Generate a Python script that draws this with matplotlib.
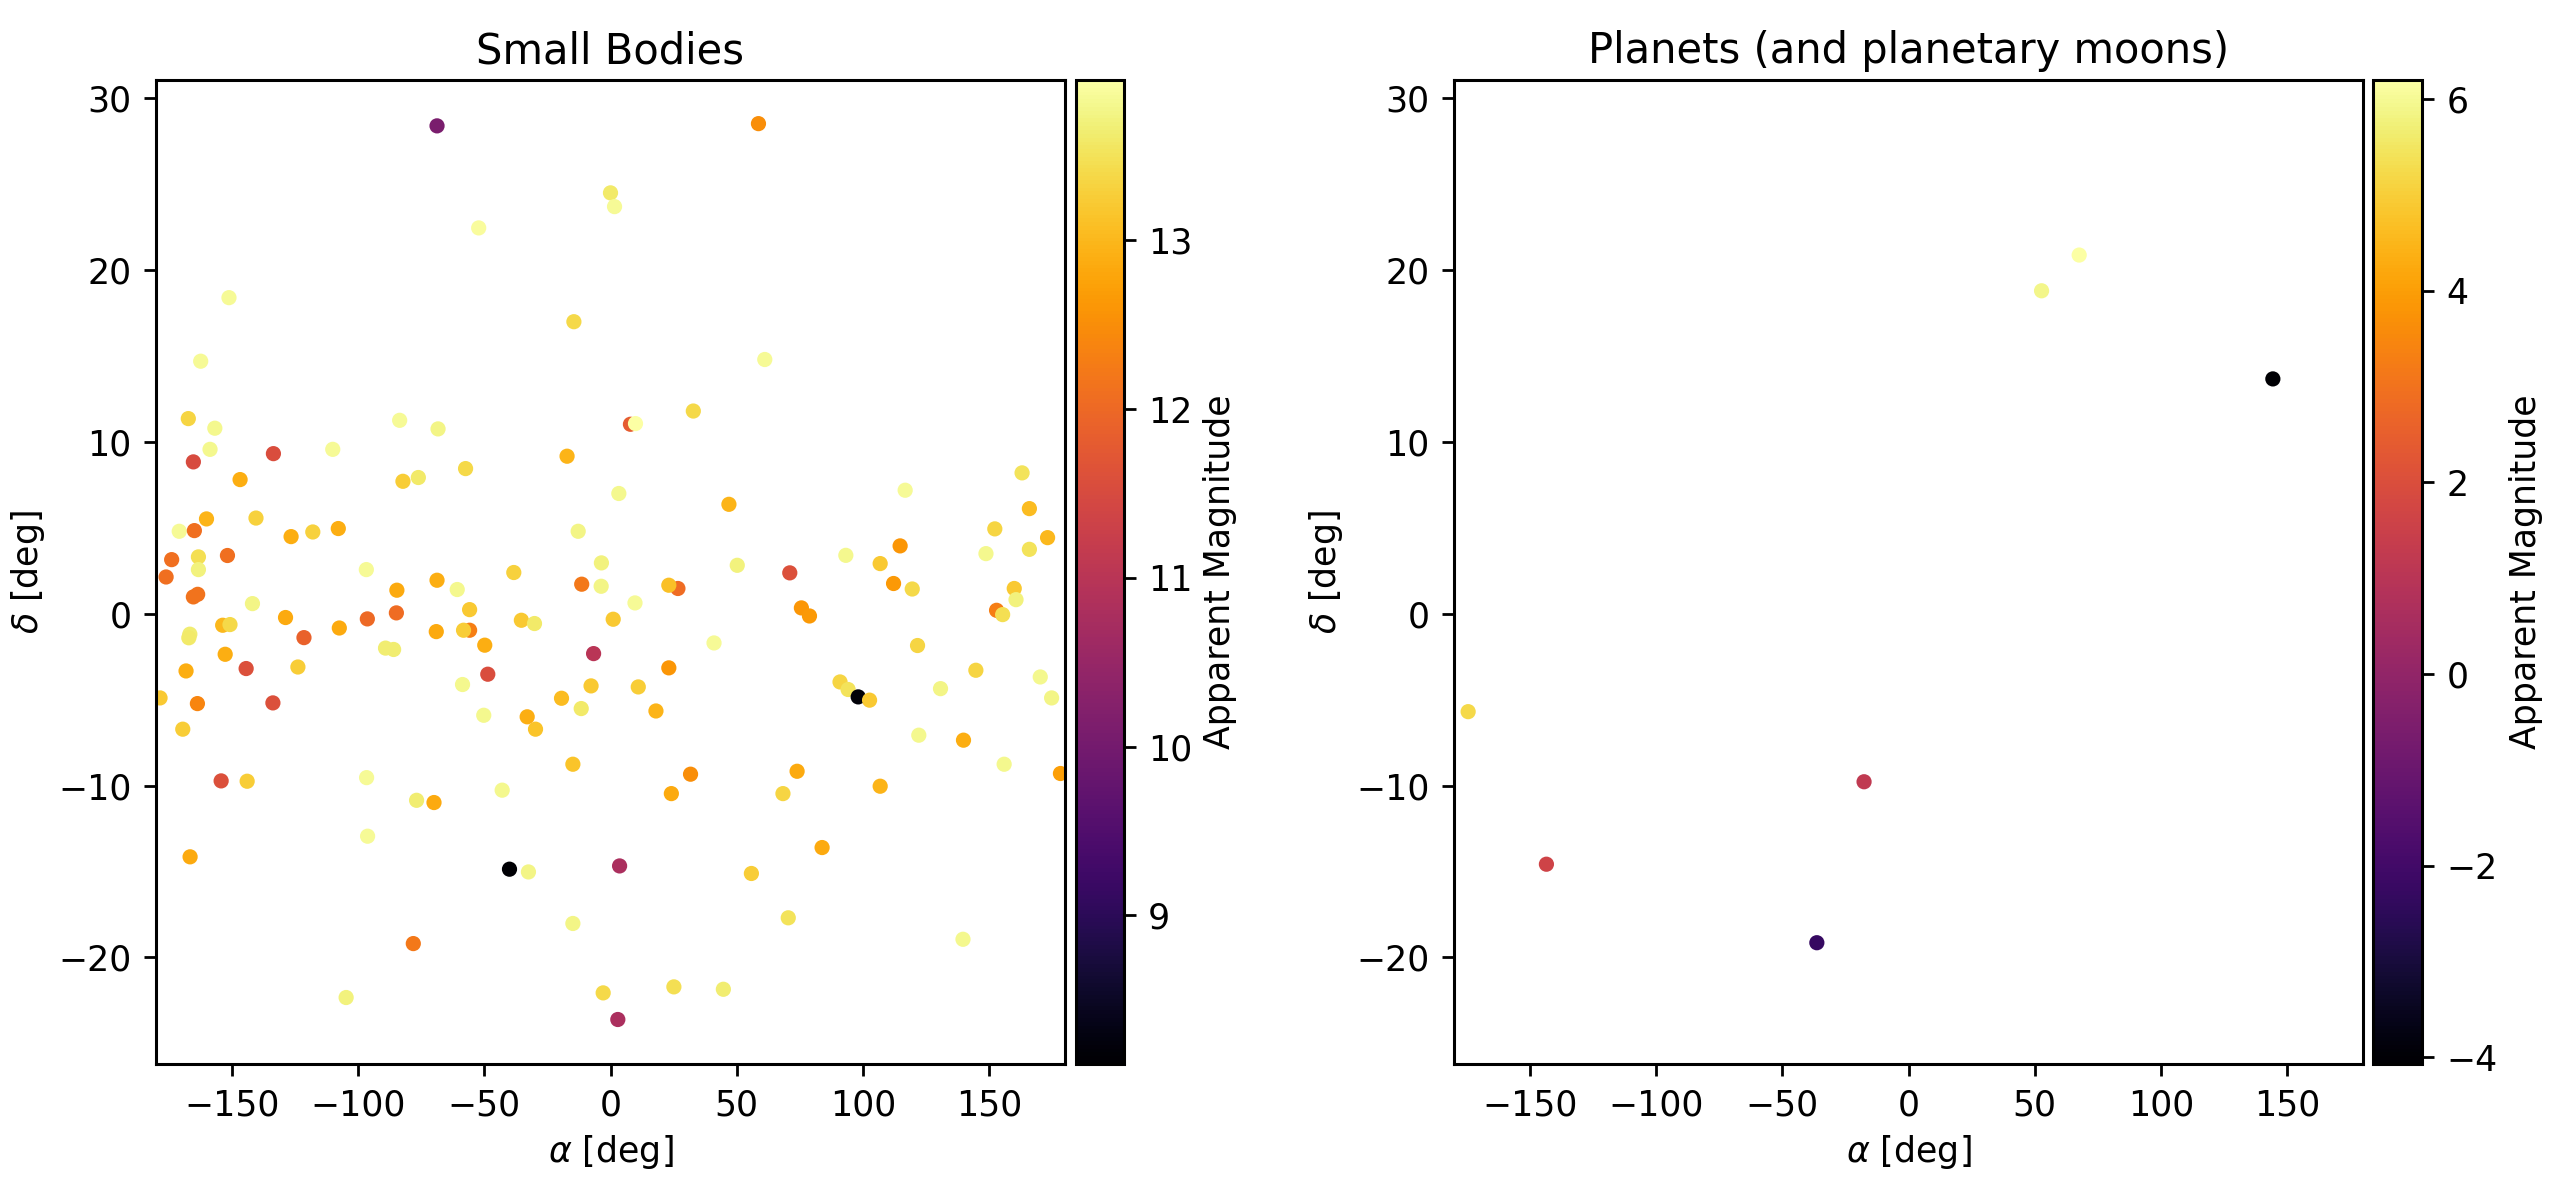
import matplotlib
matplotlib.use("Agg")
import matplotlib.pyplot as plt
import numpy as np

# ---------------- Small bodies ----------------
sb_alpha = [
    -68.7, -52.2, 0.0, 1.6, -151.1, -14.5, -162.3, -167.2, -156.7, -158.6,
    -165.2, -133.5, -110.0, -83.5, -68.3, -146.7, -82.2, -76.1, -57.4, -17.2,
    -12.8, -3.6, -170.8, -164.8, -160.0, -140.4, -126.5, -117.9, -107.8, -173.8,
    -163.2, -151.7, -96.7, -38.3, -163.2, -176.0, -165.2, -163.5, -141.8, -166.6,
    -167.0, -153.6, -150.7, -128.7, -121.4, -107.4, -96.3, -84.8, -84.6, -68.7,
    -60.7, -55.8, -69.0, -55.8, -58.2, -49.8, -48.6, -35.3, -30.1, -11.4,
    -3.7, 1.07, -6.7, -7.7, -19.4, -11.6, -33.0, -29.7, -50.2, -58.6,
    -123.8, -152.6, -144.3, -168.1, -178.4, -163.6, -133.7, -169.4, -89.1, -85.9,
    -154.2, -143.9, -96.6, -76.8, -69.9, -42.9, -14.9, -96.2, -166.5, -40.0,
    -32.5, -14.9, -78.1, -104.7, -2.9, 50.2, 71.0, 93.2, 106.8, 26.7,
    23.1, 9.7, 41.0, 23.1, 11.0, 18.0, 75.6, 78.8, 112.1, 119.5,
    159.9, 160.6, 152.9, 155.3, 121.6, 144.7, 170.2, 174.7, 90.9, 94.1,
    98.1, 102.6, 130.7, 122.1, 139.8, 155.9, 178.2, 31.7, 24.1, 73.9,
    68.3, 106.8, 83.8, 3.6, 55.8, 70.4, 139.6, 25.1, 44.7, 2.9,
    58.6, 61.1, 32.8, 7.9, 9.9, 3.3, 46.9, 116.7, 163.0, 165.9,
    152.2, 173.1, 114.7, 148.7, 165.9,
]
sb_delta = [
    28.4, 22.46, 24.5, 23.7, 18.4, 17.0, 14.7, 11.36, 10.8, 9.57,
    8.84, 9.32, 9.57, 11.26, 10.76, 7.81, 7.71, 7.93, 8.45, 9.17,
    4.8, 2.96, 4.8, 4.84, 5.52, 5.57, 4.49, 4.76, 4.96, 3.15,
    3.31, 3.39, 2.57, 2.40, 2.57, 2.14, 0.98, 1.13, 0.59, -1.19,
    -1.4, -0.67, -0.63, -0.22, -1.39, -0.83, -0.30, 0.05, 1.37, 1.95,
    1.41, 0.24, -1.04, -0.96, -0.96, -1.83, -3.52, -0.38, -0.57, 1.72,
    1.6, -0.32, -2.32, -4.2, -4.92, -5.52, -6.0, -6.72, -5.91, -4.12,
    -3.1, -2.36, -3.19, -3.33, -4.9, -5.23, -5.19, -6.72, -2.0, -2.08,
    -9.73, -9.75, -9.54, -10.86, -10.99, -10.27, -8.76, -12.95, -14.15, -14.87,
    -15.03, -18.03, -19.2, -22.34, -22.07, 2.82, 2.38, 3.4, 2.92, 1.47,
    1.66, 0.63, -1.70, -3.15, -4.26, -5.66, 0.34, -0.13, 1.76, 1.44,
    1.47, 0.82, 0.2, -0.05, -1.85, -3.29, -3.68, -4.9, -3.97, -4.41,
    -4.84, -5.03, -4.36, -7.07, -7.36, -8.76, -9.3, -9.34, -10.47, -9.17,
    -10.47, -10.04, -13.61, -14.68, -15.12, -17.7, -18.95, -21.72, -21.86, -23.62,
    28.53, 14.8, 11.8, 11.03, 11.07, 7.0, 6.37, 7.19, 8.2, 6.12,
    4.94, 4.43, 3.95, 3.5, 3.75,
]
sb_mag = [
    10.1, 13.9, 13.6, 13.85, 13.85, 13.4, 13.85, 13.35, 13.8, 13.8,
    11.5, 11.55, 13.85, 13.85, 13.75, 12.9, 13.25, 13.6, 13.4, 12.95,
    13.75, 13.7, 13.85, 12.1, 12.95, 13.3, 12.9, 13.3, 12.9, 12.1,
    13.45, 12.1, 13.85, 13.3, 13.7, 12.1, 12.15, 12.15, 13.75, 13.65,
    13.6, 13.0, 13.4, 12.85, 11.9, 12.85, 12.0, 12.05, 12.85, 12.9,
    13.8, 13.2, 12.85, 12.3, 13.25, 12.9, 11.55, 13.2, 13.6, 12.2,
    13.75, 13.2, 11.0, 13.2, 13.05, 13.6, 12.9, 13.15, 13.8, 13.8,
    13.25, 12.9, 11.6, 12.9, 13.2, 12.4, 11.6, 13.25, 13.65, 13.65,
    11.6, 13.25, 13.85, 13.65, 12.85, 13.8, 13.15, 13.85, 12.85, 8.12,
    13.75, 13.75, 12.2, 13.7, 13.4, 13.7, 11.6, 13.8, 13.2, 12.05,
    13.1, 13.85, 13.85, 12.6, 13.25, 12.95, 12.6, 12.65, 12.65, 13.4,
    13.2, 13.7, 12.3, 13.45, 13.35, 13.35, 13.8, 13.75, 13.35, 13.5,
    8.2, 13.2, 13.75, 13.8, 12.9, 13.8, 12.7, 12.5, 12.85, 12.85,
    13.35, 12.95, 12.85, 10.8, 13.25, 13.5, 13.8, 13.45, 13.65, 10.8,
    12.5, 13.85, 13.4, 11.8, 13.95, 13.8, 12.95, 13.85, 13.5, 13.05,
    13.35, 13.0, 12.6, 13.8, 13.5,
]

# ---------------- Planets ----------------
pl_alpha = [-174.4, -143.4, -36.3, -17.6, 52.7, 67.6, 144.3]
pl_delta = [-5.7, -14.58, -19.15, -9.78, 18.8, 20.88, 13.67]
pl_mag = [5.2, 1.6, -2.3, 1.2, 5.9, 6.2, -4.07]

plt.rcParams.update({
    "font.size": 12.5,
    "axes.titlesize": 15,
    "axes.linewidth": 1.1,
    "xtick.major.size": 4.2,
    "ytick.major.size": 4.2,
    "xtick.major.width": 1.0,
    "ytick.major.width": 1.0,
    "xtick.major.pad": 4.5,
    "ytick.major.pad": 4.5,
})

W, H = 2574, 1198
fig = plt.figure(figsize=(W / 200, H / 200), dpi=200)

bottom = 1 - 1064 / H
height = 984 / H
ax1 = fig.add_axes([156 / W, bottom, 909 / W, height])
cax1 = fig.add_axes([1075.7 / W, bottom, 48 / W, height])
ax2 = fig.add_axes([1454 / W, bottom, 909 / W, height])
cax2 = fig.add_axes([2373.3 / W, bottom, 49 / W, height])

ylim = (-26.21, 31.07)

sc1 = ax1.scatter(sb_alpha, sb_delta, c=sb_mag, cmap="inferno", s=20)
ax1.set_xlim(-180, 180)
ax1.set_ylim(*ylim)
ax1.set_title("Small Bodies")
ax1.set_xlabel(r"$\alpha$ [deg]")
ax1.set_ylabel(r"$\delta$ [deg]")
cb1 = fig.colorbar(sc1, cax=cax1)
cb1.set_label("Apparent Magnitude")

sc2 = ax2.scatter(pl_alpha, pl_delta, c=pl_mag, cmap="inferno", s=20)
ax2.set_xlim(-180, 180)
ax2.set_ylim(*ylim)
ax2.set_title("Planets (and planetary moons)")
ax2.set_xlabel(r"$\alpha$ [deg]")
ax2.set_ylabel(r"$\delta$ [deg]")
cb2 = fig.colorbar(sc2, cax=cax2)
cb2.set_label("Apparent Magnitude")

fig.savefig("out.png", dpi=200)
